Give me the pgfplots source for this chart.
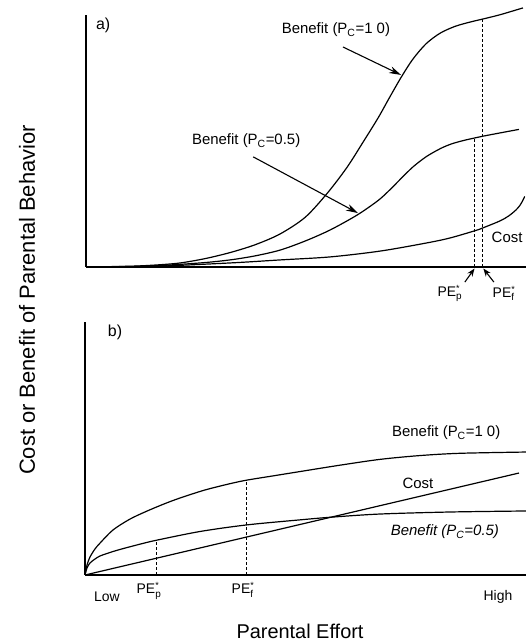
\documentclass[border=0pt]{standalone}
\usepackage{pgfplots}
\pgfplotsset{compat=1.18}
\usepackage{fontspec}
\setmainfont{Liberation Sans}
\usetikzlibrary{arrows.meta}
\newcommand{\ann}{\fontsize{15}{17}\selectfont}
\newcommand{\sml}{\fontsize{14}{16}\selectfont}
\newcommand{\PE}[1]{PE$^{\mbox{\fontsize{9}{9}\selectfont *}}_{\mbox{\fontsize{10}{10}\selectfont #1}}$}
\begin{document}
\begin{tikzpicture}[x=1bp,y=1bp]
\path[use as bounding box] (0,0) rectangle (526,641);
\pgfplotsset{panel/.style={scale only axis, width=440bp, height=252bp,
  xmin=0, xmax=100, ymin=0, ymax=100,
  axis lines=left, axis line style={-, line width=1.5bp, black},
  xtick=\empty, ytick=\empty, clip=false},
  curve/.style={black, line width=1.2bp, no marks, smooth},
  dsh/.style={black, line width=1bp, no marks, dash pattern=on 3bp off 2bp}}
% ---------------- panel a ----------------
\begin{axis}[panel, at={(86bp,374bp)}, anchor=south west]
\addplot[curve] coordinates {(0,0) (10,0.3) (16,0.8) (21.4,1.6) (27,3.3) (32.7,5.7) (38.4,8.8) (44.1,13.1) (49.8,19.7) (54.8,29.2) (59.3,39.5) (62.95,49.5) (66.4,59.2) (68.9,67) (71.6,75.2) (74.3,82.5) (77.3,88.6) (80.5,92.8) (83.9,95.5) (87.3,97.2) (90.2,98.4) (94.1,100.1) (99.3,102.8)};
\addplot[curve] coordinates {(0,0) (14.5,0.4) (25.9,1.6) (32.7,2.8) (38.4,4.4) (44.1,6.7) (49.8,10.3) (55.5,14.7) (61.6,20.6) (66.4,26.4) (69.1,30.7) (71.6,35.1) (74.3,39.7) (77.3,43.75) (80.5,46.95) (83.0,48.8) (85.7,50.15) (88.6,51.3) (90.2,51.9) (94.1,53.2) (98.4,54.6)};
\addplot[curve] coordinates {(0,0) (14.5,0.2) (32.7,1.6) (44.1,2.8) (55.5,4.0) (66.8,6.3) (77.3,9.5) (82.7,11.5) (88.6,14.5) (90.2,15.5) (94.1,18.3) (96.1,20.3) (97.7,22.6) (98.6,24.4) (99.3,26.5) (99.7,28)};
\addplot[dsh] coordinates {(88.4,0) (88.4,51.2)};
\addplot[dsh] coordinates {(90.2,0) (90.2,98.4)};
\node[font=\fontsize{16}{18}\selectfont] at (axis cs:3.9,96) {a)};
\node[font=\ann] at (axis cs:56.8,94) {Benefit (P\textsubscript{C}=1 0)};
\draw[line width=1.1bp, -{Stealth[length=12bp,width=7bp]}] (axis cs:58.4,87.3) -- (axis cs:71.6,76.2);
\node[font=\ann] at (axis cs:36.4,50) {Benefit (P\textsubscript{C}=0.5)};
\draw[line width=1.1bp, -{Stealth[length=12bp,width=7bp]}] (axis cs:38,43.7) -- (axis cs:61.8,21.4);
\node[font=\ann] at (axis cs:95.7,11.9) {Cost};
\draw[line width=1.1bp, -{Stealth[length=8bp,width=6bp]}] (axis cs:86.1,-6.0) -- (axis cs:88.3,-0.6);
\draw[line width=1.1bp, -{Stealth[length=8bp,width=6bp]}] (axis cs:92.7,-6.0) -- (axis cs:90.3,-0.6);
\node[font=\sml] at (axis cs:82.7,-10.5) {\PE{p}};
\node[font=\sml] at (axis cs:95.0,-10.5) {\PE{f}};
\end{axis}
% ---------------- panel b ----------------
\begin{axis}[panel, at={(85bp,66bp)}, anchor=south west, width=441bp, height=253bp]
\addplot[curve] coordinates {(0,0) (0.45,3.95) (1.13,7.1) (2.27,10.3) (3.40,12.6) (6.35,17.8) (10.2,22.1) (14.1,25.3) (18.1,28.2) (21.5,30.4) (27.2,33.6) (32.9,36.1) (36.7,37.5) (43.1,39.3) (48.8,40.9) (57.8,43.4) (66.9,45.7) (75.9,47.2) (85.0,48.1) (100,48.6)};
\addplot[curve] coordinates {(0,0) (0.45,2.77) (1.13,4.74) (2.27,6.32) (3.40,7.51) (5.67,8.9) (7.94,10.1) (12.5,12.2) (16.1,13.7) (26.1,17.2) (36.7,19.8) (48.8,21.8) (56.2,22.9) (66.9,24.1) (82.8,24.9) (100,25.3)};
\addplot[black, line width=1.2bp, no marks] coordinates {(0,0) (98.4,40.3)};
\addplot[dsh] coordinates {(16.1,0) (16.1,13.7)};
\addplot[dsh] coordinates {(36.7,0) (36.7,37.5)};
\node[font=\fontsize{16}{18}\selectfont] at (axis cs:6.8,95.7) {b)};
\node[font=\ann] at (axis cs:81.9,56.1) {Benefit (P\textsubscript{C}=1 0)};
\node[font=\ann] at (axis cs:75.5,36.4) {Cost};
\node[font=\ann\itshape] at (axis cs:81.6,17.0) {Benefit (P\textsubscript{C}=0.5)};
\end{axis}
% ---------------- outer labels ----------------
\node[font=\fontsize{22}{24}\selectfont, rotate=90] at (27,341) {Cost or Benefit of Parental Behavior};
\node[font=\fontsize{20}{22}\selectfont] at (300,10) {Parental Effort};
\node[font=\sml] at (107,44) {Low};
\node[font=\sml] at (498,44) {High};
\node[font=\sml] at (149,50) {\PE{p}};
\node[font=\sml] at (243,51) {\PE{f}};
\end{tikzpicture}
\end{document}
